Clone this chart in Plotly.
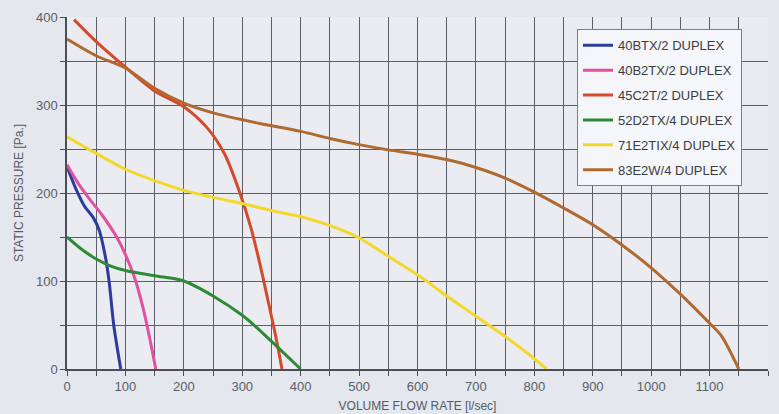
import plotly.graph_objects as go

names = ["40BTX/2 DUPLEX", "40B2TX/2 DUPLEX", "45C2T/2 DUPLEX",
         "52D2TX/4 DUPLEX", "71E2TIX/4 DUPLEX", "83E2W/4 DUPLEX"]
colors = ["#2d3b9e", "#e2509f", "#d44a2a", "#2f8a35", "#f3d82a", "#b06a30"]

x_40btx = [0, 15, 30, 45, 55, 65, 72, 80, 92]
y_40btx = [230, 205, 185, 172, 158, 130, 100, 50, 0]

x_40b2tx = [0, 20, 40, 60, 85, 100, 115, 130, 140, 152]
y_40b2tx = [232, 210, 192, 175, 150, 130, 105, 70, 40, 0]

x_45c2t = [12, 50, 100, 150, 200, 240, 270, 296, 315, 330, 345, 358, 368]
y_45c2t = [397, 372, 343, 316, 298, 274, 244, 200, 160, 120, 75, 35, 0]

x_52d2tx = [0, 25, 50, 75, 100, 150, 200, 250, 300, 330, 365, 400]
y_52d2tx = [150, 136, 125, 117, 112, 106, 100, 83, 61, 44, 22, 0]

x_71e2tix = [0, 50, 100, 150, 200, 250, 300, 350, 400, 450, 500, 550, 600, 650, 700, 750, 790, 821]
y_71e2tix = [264, 245, 227, 214, 203, 195, 188, 180, 173, 163, 149, 128, 107, 83, 60, 37, 17, 0]

x_83e2w = [0, 50, 100, 150, 200, 250, 330, 400, 450, 500, 550, 600, 650, 700, 750, 800,
           850, 900, 950, 1000, 1050, 1100, 1120, 1150]
y_83e2w = [375, 356, 342, 319, 302, 291, 279, 270, 262, 255, 249, 244, 238, 229, 217, 201,
           183, 164, 141, 115, 85, 52, 38, 0]

series_x = [x_40btx, x_40b2tx, x_45c2t, x_52d2tx, x_71e2tix, x_83e2w]
series_y = [y_40btx, y_40b2tx, y_45c2t, y_52d2tx, y_71e2tix, y_83e2w]

fig = go.Figure()
for i, (n, c, xs, ys) in enumerate(zip(names, colors, series_x, series_y)):
    fig.add_trace(go.Scatter(x=xs, y=ys, name=n, mode="lines",
                             line=dict(color=c, width=3, shape="spline", smoothing=0.8),
                             legendgroup=f"g{i}"))

grid_col = "#5a5f6a"
axis_font = dict(family="Liberation Sans, Arial, sans-serif", size=13, color="#5a5e66")

fig.update_layout(
    width=779, height=414,
    margin=dict(l=67, r=11, t=17, b=45),
    paper_bgcolor="#e4e7ee",
    plot_bgcolor="#eaecf2",
    font=dict(family="Liberation Sans, Arial, sans-serif", size=11, color="#444"),
    showlegend=True,
    legend=dict(x=0.7275, y=0.965, xanchor="left", yanchor="top",
                bgcolor="#f5f6f9", bordercolor="#7a7e86", borderwidth=1,
                font=dict(size=13, color="#3a3d44"),
                itemwidth=30, tracegroupgap=5, traceorder="grouped"),
)
fig.update_xaxes(range=[0, 1200], dtick=100, tick0=0, showgrid=True, gridcolor=grid_col,
                 gridwidth=1, showline=True, linecolor="#4a4e57", linewidth=1.5,
                 ticks="outside", ticklen=5, tickcolor="#4a4e57", tickfont=axis_font,
                 minor=dict(dtick=50, showgrid=True, gridcolor=grid_col, gridwidth=1,
                            ticks="outside", ticklen=5, tickcolor="#4a4e57"),
                 zeroline=False, automargin=False,
                 title=dict(text="VOLUME FLOW RATE [l/sec]", standoff=8,
                            font=dict(size=12, color="#555a63")))
fig.update_yaxes(range=[0, 400], dtick=100, tick0=0, showgrid=True, gridcolor=grid_col,
                 gridwidth=1, showline=True, linecolor="#4a4e57", linewidth=1.5,
                 ticks="outside", ticklen=5, tickcolor="#4a4e57", tickfont=axis_font,
                 minor=dict(dtick=50, showgrid=True, gridcolor=grid_col, gridwidth=1,
                            ticks="outside", ticklen=5, tickcolor="#4a4e57"),
                 zeroline=False, automargin=False,
                 title=dict(text="STATIC PRESSURE [Pa.]", standoff=10,
                            font=dict(size=12, color="#555a63")))

fig.write_html("out.html", config={"displayModeBar": False},
               post_script="document.body.style.margin='0';document.body.style.overflow='hidden';")
